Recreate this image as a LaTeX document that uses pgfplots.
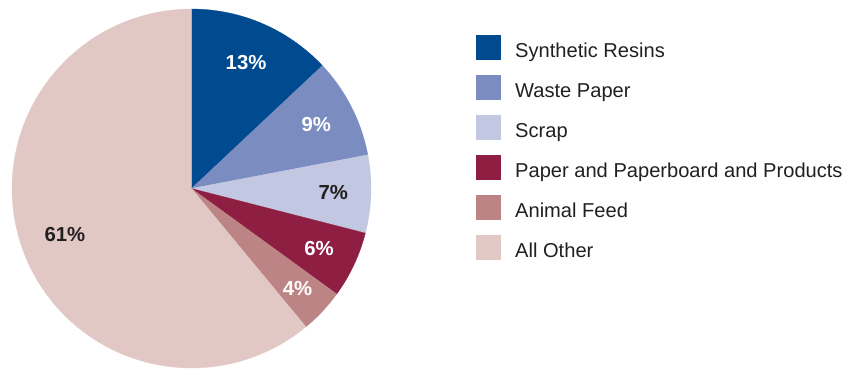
\documentclass[border=0pt]{standalone}
\usepackage{pgfplots}
\pgfplotsset{compat=1.18}
\usepackage{fontspec}
\setmainfont{Liberation Sans}
\definecolor{cResins}{RGB}{0,74,143}
\definecolor{cWaste}{RGB}{122,140,192}
\definecolor{cScrap}{RGB}{194,199,226}
\definecolor{cPaper}{RGB}{142,31,66}
\definecolor{cFeed}{RGB}{189,132,133}
\definecolor{cOther}{RGB}{226,200,197}
\definecolor{txt}{RGB}{35,31,32}
\newcommand\pctfont{\fontsize{20.3}{22}\selectfont\bfseries}
\newcommand\legfont{\fontsize{20.1}{22}\selectfont}
% slice: #1 percent, #2 fill colour, #3 label colour, #4 label radius (fraction of R)
\newcommand\pieslice[4]{%
  \pgfmathsetmacro\endang{\startang-3.6*#1}%
  \pgfmathsetmacro\midang{(\startang+\endang)/2}%
  \pgfmathsetmacro\lx{#4*cos(\midang)}%
  \pgfmathsetmacro\ly{#4*sin(\midang)}%
  \edef\temp{\noexpand\addplot[fill=#2, draw=#2, line width=0.3pt, domain=\endang:\startang, samples=90]
     ({cos(x)},{sin(x)}) -- (axis cs:0,0) -- cycle;
     \noexpand\node[text=#3, font=\noexpand\pctfont, inner sep=0pt] at (axis cs:\lx,\ly) {#1\noexpand\%};}%
  \temp
  \xdef\startang{\endang}%
}
\begin{document}
\begin{tikzpicture}
\begin{axis}[at={(0,0)}, anchor=center, scale only axis,
  width=359pt, height=359pt, xmin=-1, xmax=1, ymin=-1, ymax=1,
  hide axis, clip=false]
\xdef\startang{90}
\pieslice{13}{cResins}{white}{0.765}
\pieslice{9}{cWaste}{white}{0.78}
\pieslice{7}{cScrap}{txt}{0.79}
\pieslice{6}{cPaper}{white}{0.785}
\pieslice{4}{cFeed}{white}{0.81}
\pieslice{61}{cOther}{txt}{0.75}
\end{axis}
% legend
\foreach \c/\t [count=\i from 0] in {cResins/Synthetic Resins, cWaste/Waste Paper, cScrap/Scrap,
   cPaper/Paper and Paperboard and Products, cFeed/Animal Feed, cOther/All Other}{
  \fill[\c] (284.5pt,{128.5pt-40pt*\i}) rectangle (309.5pt,{153.5pt-40pt*\i});
  \node[anchor=base west, inner sep=0pt, text=txt, font=\legfont] at (323.5pt,{131.2pt-40pt*\i}) {\t};
}
\pgfresetboundingbox
\path[use as bounding box] (-191.5pt,-179.5pt) rectangle (655.5pt,188.5pt);
\end{tikzpicture}
\end{document}
